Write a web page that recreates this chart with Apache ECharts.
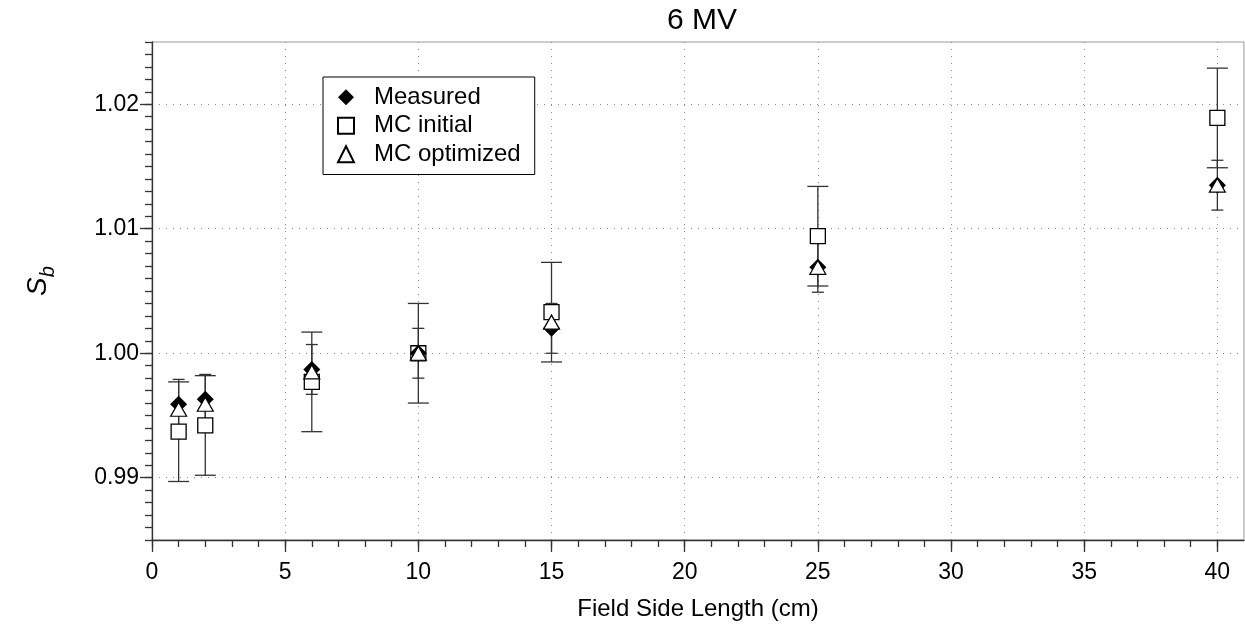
<!DOCTYPE html>
<html>
<head>
<meta charset="utf-8">
<script src="https://cdn.jsdelivr.net/npm/echarts@6/dist/echarts.min.js"></script>
<style>html,body{margin:0;padding:0;background:#fff;}#c{width:1245px;height:626px;}</style>
</head>
<body>
<div id="c"></div>
<script>
// ---- data ----
const fieldSizes   = [1, 2, 6, 10, 15, 25, 40];
const measured     = [0.9959, 0.9963, 0.9987, 1.0000, 1.0020, 1.0069, 1.0135];
const measuredErr  = [0.0020, 0.0020, 0.0020, 0.0020, 0.0020, 0.0020, 0.0020];
const mcInitial    = [0.9937, 0.9942, 0.9977, 1.0000, 1.0033, 1.0094, 1.0189];
const mcInitialErr = [0.0040, 0.0040, 0.0040, 0.0040, 0.0040, 0.0040, 0.0040];
const mcOptimized  = [0.9955, 0.9959, 0.9985, 1.0000, 1.0025, 1.0069, 1.0135];
const xMajorTicks  = [0, 5, 10, 15, 20, 25, 30, 35, 40];
const yMajorTicks  = [0.99, 1.00, 1.01, 1.02];
const xMinorTicks  = []; for (let i = 0; i <= 40; i++) xMinorTicks.push(i);
const yMinorTicks  = []; for (let i = 985; i <= 1025; i++) yMinorTicks.push(i / 1000);

const FONT = 'Liberation Sans';
const chart = echarts.init(document.getElementById('c'), null, {renderer: 'canvas'});

function errItem(halfCap) {
  return function (params, api) {
    const x = api.value(0);
    const p1 = api.coord([x, api.value(1)]);
    const p2 = api.coord([x, api.value(2)]);
    const style = {stroke: '#333', lineWidth: 1.3};
    return {type: 'group', children: [
      {type: 'line', shape: {x1: p1[0], y1: p1[1], x2: p2[0], y2: p2[1]}, style: style},
      {type: 'line', shape: {x1: p1[0] - halfCap, y1: p1[1], x2: p1[0] + halfCap, y2: p1[1]}, style: style},
      {type: 'line', shape: {x1: p2[0] - halfCap, y1: p2[1], x2: p2[0] + halfCap, y2: p2[1]}, style: style}
    ]};
  };
}
const mcInitErrData = fieldSizes.map((x, i) => [x, mcInitial[i] - mcInitialErr[i], mcInitial[i] + mcInitialErr[i]]);
const measErrData   = fieldSizes.map((x, i) => [x, measured[i] - measuredErr[i], measured[i] + measuredErr[i]]);

const axisLineStyle = {color: '#333', width: 1.3};
const gridLine = {show: true, lineStyle: {color: '#888', type: [1, 6], width: 1}};

chart.setOption({
  animation: false,
  backgroundColor: '#fff',
  title: {text: '6 MV', left: 662, top: 1,
    textStyle: {fontFamily: FONT, fontSize: 30, fontWeight: 'normal', color: '#000'}},
  grid: {left: 152, right: 1, top: 42, bottom: 82, show: true, borderColor: '#999', borderWidth: 1, backgroundColor: 'transparent'},
  legend: {
    left: 323, top: 77, orient: 'vertical', selectedMode: false,
    padding: [6, 14, 6, 14], itemGap: 0, itemWidth: 16, itemHeight: 16,
    borderColor: '#000', borderWidth: 1, backgroundColor: '#fff',
    textStyle: {fontFamily: FONT, fontSize: 24, color: '#000', lineHeight: 28.5, padding: [0, 0, 0, 15]},
    data: ['Measured', 'MC initial', 'MC optimized']
  },
  xAxis: [{
    type: 'value', min: 0, max: 41, position: 'bottom',
    name: 'Field Side Length (cm)', nameLocation: 'middle', nameGap: 57,
    nameTextStyle: {fontFamily: FONT, fontSize: 24, color: '#000'},
    axisLine: {show: true, lineStyle: axisLineStyle},
    axisTick: {show: true, customValues: xMajorTicks, length: 12, lineStyle: axisLineStyle},
    axisLabel: {customValues: xMajorTicks, margin: 21, fontFamily: FONT, fontSize: 23, color: '#000'},
    splitLine: gridLine
  }, {
    type: 'value', min: 0, max: 41, position: 'bottom',
    axisLine: {show: false},
    axisTick: {show: true, customValues: xMinorTicks, length: 7, lineStyle: axisLineStyle},
    axisLabel: {show: false}, splitLine: {show: false}
  }],
  yAxis: [{
    type: 'value', min: 0.985, max: 1.025, position: 'left',
    name: '{s|S}{b|b}', nameLocation: 'middle', nameRotate: 90, nameGap: 100,
    nameTextStyle: {padding: [0, 0, 0, 20], rich: {
      s: {fontFamily: FONT, fontSize: 28, fontStyle: 'italic', color: '#000', verticalAlign: 'bottom', lineHeight: 32},
      b: {fontFamily: FONT, fontSize: 20, fontStyle: 'italic', color: '#000', verticalAlign: 'bottom', lineHeight: 24, padding: [0, 0, -6, 0]}
    }},
    axisLine: {show: true, lineStyle: axisLineStyle},
    axisTick: {show: true, customValues: yMajorTicks, length: 12, lineStyle: axisLineStyle},
    axisLabel: {customValues: yMajorTicks, margin: 13, fontFamily: FONT, fontSize: 23, color: '#000',
      formatter: v => v.toFixed(2)},
    splitLine: gridLine
  }, {
    type: 'value', min: 0.985, max: 1.025, position: 'left',
    axisLine: {show: false},
    axisTick: {show: true, customValues: yMinorTicks, length: 7, lineStyle: axisLineStyle},
    axisLabel: {show: false}, splitLine: {show: false}
  }],
  series: [
    {type: 'custom', name: 'errInit', renderItem: errItem(10.5), data: mcInitErrData, encode: {x: 0, y: [1, 2]}, z: 1, silent: true},
    {type: 'custom', name: 'errMeas', renderItem: errItem(6), data: measErrData, encode: {x: 0, y: [1, 2]}, z: 1, silent: true},
    {type: 'scatter', name: 'MC initial', data: fieldSizes.map((x, i) => [x, mcInitial[i]]),
      symbol: 'rect', symbolSize: 15, z: 2,
      itemStyle: {color: '#fff', borderColor: '#000', borderWidth: 1.3, opacity: 1}},
    {type: 'scatter', name: 'Measured', data: fieldSizes.map((x, i) => [x, measured[i]]),
      symbol: 'diamond', symbolSize: 17, z: 3,
      itemStyle: {color: '#000', borderColor: '#000', borderWidth: 0, opacity: 1}},
    {type: 'scatter', name: 'MC optimized', data: fieldSizes.map((x, i) => [x, mcOptimized[i]]),
      symbol: 'triangle', symbolSize: [16, 14], z: 4,
      itemStyle: {color: '#fff', borderColor: '#000', borderWidth: 1.2, opacity: 1}}
  ]
});
</script>
</body>
</html>
